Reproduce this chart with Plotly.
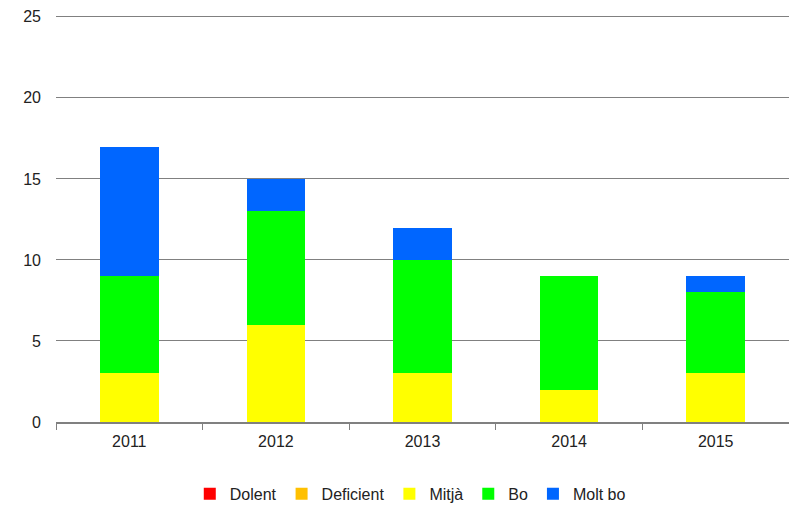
import plotly.graph_objects as go

years = ['2011', '2012', '2013', '2014', '2015']
dolent = [0, 0, 0, 0, 0]
deficient = [0, 0, 0, 0, 0]
mitja = [3, 6, 3, 2, 3]
bo = [6, 7, 7, 7, 5]
molt_bo = [8, 2, 2, 0, 1]

series = [
    ('Dolent', dolent, '#FF0000'),
    ('Deficient', deficient, '#FFC000'),
    ('Mitjà', mitja, '#FFFF00'),
    ('Bo', bo, '#00FF00'),
    ('Molt bo', molt_bo, '#0066FF'),
]

fig = go.Figure()
for name, vals, col in series:
    fig.add_trace(go.Bar(x=years, y=vals, name=name, marker=dict(color=col, line=dict(width=0))))

fig.update_layout(
    barmode='stack',
    bargap=0.6,
    width=789, height=507,
    margin=dict(l=56, r=0, t=12, b=85, autoexpand=False),
    plot_bgcolor='white', paper_bgcolor='white',
    font=dict(family='Liberation Sans, Arial, sans-serif', size=16, color='#222222'),
    legend=dict(orientation='h', x=0.52, xanchor='center', xref='container',
                y=0.026, yanchor='middle', yref='container',
                font=dict(size=16), traceorder='normal', itemwidth=30),
    showlegend=True,
)
# range goes a bit past 25 so the top gridline is still drawn
fig.update_yaxes(range=[0, 25.3], tickvals=[0, 5, 10, 15, 20, 25], showgrid=True,
                 gridcolor='#808080', gridwidth=1,
                 zeroline=False, ticks='', ticklabelstandoff=14, automargin=False)
fig.update_xaxes(showline=True, linecolor='#808080', linewidth=2, ticks='outside',
                 tickson='boundaries', ticklen=6, tickcolor='#808080',
                 ticklabelstandoff=4, automargin=False)

# page body has an 8px default margin, drop it so the chart sits at 0,0
fig.write_html("out.html", config={'displayModeBar': False},
               post_script="document.body.style.margin='0';")
